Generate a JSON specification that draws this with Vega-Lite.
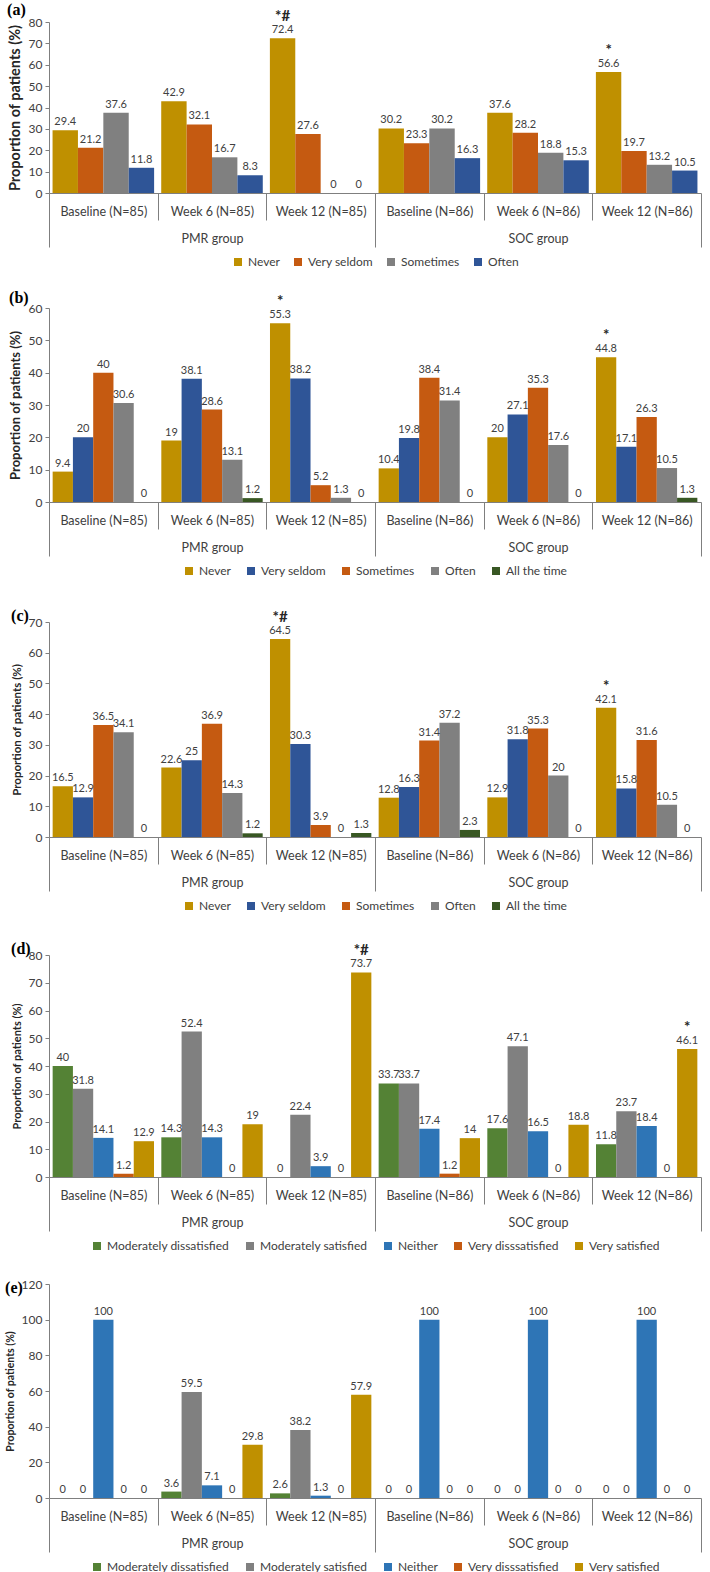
{
  "$schema": "https://vega.github.io/schema/vega-lite/v6.json",
  "padding": {"left": 5, "top": 2, "right": 2, "bottom": 2},
  "config": {
    "font": "Lato",
    "view": {"stroke": null},
    "title": {"font": "Liberation Serif", "fontSize": 16, "fontWeight": "bold", "color": "#000000", "anchor": "start", "frame": "bounds"},
    "axis": {"labelFontSize": 12, "labelColor": "#404040", "domainColor": "#7f7f7f", "tickColor": "#7f7f7f", "grid": false},
    "axisX": {"labelFontSize": 12.5},
    "axisY": {"tickSize": 4, "labelPadding": 3, "titleFontWeight": "bold", "titleColor": "#262626", "titlePadding": 6},
    "legend": {"orient": "bottom", "direction": "horizontal", "title": null, "symbolType": "square", "symbolSize": 64, "symbolStrokeWidth": 0, "labelFontSize": 12, "labelColor": "#404040", "columnPadding": 14, "offset": 8, "padding": 0, "layout": {"bottom": {"anchor": "middle"}}},
    "text": {"fontSize": 11, "color": "#404040"}
  },
  "datasets": {
    "a": [
      {"time": "Baseline (N=85)", "cat": "Never", "value": 29.4},
      {"time": "Baseline (N=85)", "cat": "Very seldom", "value": 21.2},
      {"time": "Baseline (N=85)", "cat": "Sometimes", "value": 37.6},
      {"time": "Baseline (N=85)", "cat": "Often", "value": 11.8},
      {"time": "Week 6 (N=85)", "cat": "Never", "value": 42.9},
      {"time": "Week 6 (N=85)", "cat": "Very seldom", "value": 32.1},
      {"time": "Week 6 (N=85)", "cat": "Sometimes", "value": 16.7},
      {"time": "Week 6 (N=85)", "cat": "Often", "value": 8.3},
      {"time": "Week 12 (N=85)", "cat": "Never", "value": 72.4, "sig": "*#"},
      {"time": "Week 12 (N=85)", "cat": "Very seldom", "value": 27.6},
      {"time": "Week 12 (N=85)", "cat": "Sometimes", "value": 0},
      {"time": "Week 12 (N=85)", "cat": "Often", "value": 0},
      {"time": "Baseline (N=86)", "cat": "Never", "value": 30.2},
      {"time": "Baseline (N=86)", "cat": "Very seldom", "value": 23.3},
      {"time": "Baseline (N=86)", "cat": "Sometimes", "value": 30.2},
      {"time": "Baseline (N=86)", "cat": "Often", "value": 16.3},
      {"time": "Week 6 (N=86)", "cat": "Never", "value": 37.6},
      {"time": "Week 6 (N=86)", "cat": "Very seldom", "value": 28.2},
      {"time": "Week 6 (N=86)", "cat": "Sometimes", "value": 18.8},
      {"time": "Week 6 (N=86)", "cat": "Often", "value": 15.3},
      {"time": "Week 12 (N=86)", "cat": "Never", "value": 56.6, "sig": "*"},
      {"time": "Week 12 (N=86)", "cat": "Very seldom", "value": 19.7},
      {"time": "Week 12 (N=86)", "cat": "Sometimes", "value": 13.2},
      {"time": "Week 12 (N=86)", "cat": "Often", "value": 10.5}
    ],
    "b": [
      {"time": "Baseline (N=85)", "cat": "Never", "value": 9.4},
      {"time": "Baseline (N=85)", "cat": "Very seldom", "value": 20},
      {"time": "Baseline (N=85)", "cat": "Sometimes", "value": 40},
      {"time": "Baseline (N=85)", "cat": "Often", "value": 30.6},
      {"time": "Baseline (N=85)", "cat": "All the time", "value": 0},
      {"time": "Week 6 (N=85)", "cat": "Never", "value": 19},
      {"time": "Week 6 (N=85)", "cat": "Very seldom", "value": 38.1},
      {"time": "Week 6 (N=85)", "cat": "Sometimes", "value": 28.6},
      {"time": "Week 6 (N=85)", "cat": "Often", "value": 13.1},
      {"time": "Week 6 (N=85)", "cat": "All the time", "value": 1.2},
      {"time": "Week 12 (N=85)", "cat": "Never", "value": 55.3, "sig": "*"},
      {"time": "Week 12 (N=85)", "cat": "Very seldom", "value": 38.2},
      {"time": "Week 12 (N=85)", "cat": "Sometimes", "value": 5.2},
      {"time": "Week 12 (N=85)", "cat": "Often", "value": 1.3},
      {"time": "Week 12 (N=85)", "cat": "All the time", "value": 0},
      {"time": "Baseline (N=86)", "cat": "Never", "value": 10.4},
      {"time": "Baseline (N=86)", "cat": "Very seldom", "value": 19.8},
      {"time": "Baseline (N=86)", "cat": "Sometimes", "value": 38.4},
      {"time": "Baseline (N=86)", "cat": "Often", "value": 31.4},
      {"time": "Baseline (N=86)", "cat": "All the time", "value": 0},
      {"time": "Week 6 (N=86)", "cat": "Never", "value": 20},
      {"time": "Week 6 (N=86)", "cat": "Very seldom", "value": 27.1},
      {"time": "Week 6 (N=86)", "cat": "Sometimes", "value": 35.3},
      {"time": "Week 6 (N=86)", "cat": "Often", "value": 17.6},
      {"time": "Week 6 (N=86)", "cat": "All the time", "value": 0},
      {"time": "Week 12 (N=86)", "cat": "Never", "value": 44.8, "sig": "*"},
      {"time": "Week 12 (N=86)", "cat": "Very seldom", "value": 17.1},
      {"time": "Week 12 (N=86)", "cat": "Sometimes", "value": 26.3},
      {"time": "Week 12 (N=86)", "cat": "Often", "value": 10.5},
      {"time": "Week 12 (N=86)", "cat": "All the time", "value": 1.3}
    ],
    "c": [
      {"time": "Baseline (N=85)", "cat": "Never", "value": 16.5},
      {"time": "Baseline (N=85)", "cat": "Very seldom", "value": 12.9},
      {"time": "Baseline (N=85)", "cat": "Sometimes", "value": 36.5},
      {"time": "Baseline (N=85)", "cat": "Often", "value": 34.1},
      {"time": "Baseline (N=85)", "cat": "All the time", "value": 0},
      {"time": "Week 6 (N=85)", "cat": "Never", "value": 22.6},
      {"time": "Week 6 (N=85)", "cat": "Very seldom", "value": 25},
      {"time": "Week 6 (N=85)", "cat": "Sometimes", "value": 36.9},
      {"time": "Week 6 (N=85)", "cat": "Often", "value": 14.3},
      {"time": "Week 6 (N=85)", "cat": "All the time", "value": 1.2},
      {"time": "Week 12 (N=85)", "cat": "Never", "value": 64.5, "sig": "*#"},
      {"time": "Week 12 (N=85)", "cat": "Very seldom", "value": 30.3},
      {"time": "Week 12 (N=85)", "cat": "Sometimes", "value": 3.9},
      {"time": "Week 12 (N=85)", "cat": "Often", "value": 0},
      {"time": "Week 12 (N=85)", "cat": "All the time", "value": 1.3},
      {"time": "Baseline (N=86)", "cat": "Never", "value": 12.8},
      {"time": "Baseline (N=86)", "cat": "Very seldom", "value": 16.3},
      {"time": "Baseline (N=86)", "cat": "Sometimes", "value": 31.4},
      {"time": "Baseline (N=86)", "cat": "Often", "value": 37.2},
      {"time": "Baseline (N=86)", "cat": "All the time", "value": 2.3},
      {"time": "Week 6 (N=86)", "cat": "Never", "value": 12.9},
      {"time": "Week 6 (N=86)", "cat": "Very seldom", "value": 31.8},
      {"time": "Week 6 (N=86)", "cat": "Sometimes", "value": 35.3},
      {"time": "Week 6 (N=86)", "cat": "Often", "value": 20},
      {"time": "Week 6 (N=86)", "cat": "All the time", "value": 0},
      {"time": "Week 12 (N=86)", "cat": "Never", "value": 42.1, "sig": "*"},
      {"time": "Week 12 (N=86)", "cat": "Very seldom", "value": 15.8},
      {"time": "Week 12 (N=86)", "cat": "Sometimes", "value": 31.6},
      {"time": "Week 12 (N=86)", "cat": "Often", "value": 10.5},
      {"time": "Week 12 (N=86)", "cat": "All the time", "value": 0}
    ],
    "d": [
      {"time": "Baseline (N=85)", "cat": "Moderately dissatisfied", "value": 40},
      {"time": "Baseline (N=85)", "cat": "Moderately satisfied", "value": 31.8},
      {"time": "Baseline (N=85)", "cat": "Neither", "value": 14.1},
      {"time": "Baseline (N=85)", "cat": "Very disssatisfied", "value": 1.2},
      {"time": "Baseline (N=85)", "cat": "Very satisfied", "value": 12.9},
      {"time": "Week 6 (N=85)", "cat": "Moderately dissatisfied", "value": 14.3},
      {"time": "Week 6 (N=85)", "cat": "Moderately satisfied", "value": 52.4},
      {"time": "Week 6 (N=85)", "cat": "Neither", "value": 14.3},
      {"time": "Week 6 (N=85)", "cat": "Very disssatisfied", "value": 0},
      {"time": "Week 6 (N=85)", "cat": "Very satisfied", "value": 19},
      {"time": "Week 12 (N=85)", "cat": "Moderately dissatisfied", "value": 0},
      {"time": "Week 12 (N=85)", "cat": "Moderately satisfied", "value": 22.4},
      {"time": "Week 12 (N=85)", "cat": "Neither", "value": 3.9},
      {"time": "Week 12 (N=85)", "cat": "Very disssatisfied", "value": 0},
      {"time": "Week 12 (N=85)", "cat": "Very satisfied", "value": 73.7, "sig": "*#"},
      {"time": "Baseline (N=86)", "cat": "Moderately dissatisfied", "value": 33.7},
      {"time": "Baseline (N=86)", "cat": "Moderately satisfied", "value": 33.7},
      {"time": "Baseline (N=86)", "cat": "Neither", "value": 17.4},
      {"time": "Baseline (N=86)", "cat": "Very disssatisfied", "value": 1.2},
      {"time": "Baseline (N=86)", "cat": "Very satisfied", "value": 14},
      {"time": "Week 6 (N=86)", "cat": "Moderately dissatisfied", "value": 17.6},
      {"time": "Week 6 (N=86)", "cat": "Moderately satisfied", "value": 47.1},
      {"time": "Week 6 (N=86)", "cat": "Neither", "value": 16.5},
      {"time": "Week 6 (N=86)", "cat": "Very disssatisfied", "value": 0},
      {"time": "Week 6 (N=86)", "cat": "Very satisfied", "value": 18.8},
      {"time": "Week 12 (N=86)", "cat": "Moderately dissatisfied", "value": 11.8},
      {"time": "Week 12 (N=86)", "cat": "Moderately satisfied", "value": 23.7},
      {"time": "Week 12 (N=86)", "cat": "Neither", "value": 18.4},
      {"time": "Week 12 (N=86)", "cat": "Very disssatisfied", "value": 0},
      {"time": "Week 12 (N=86)", "cat": "Very satisfied", "value": 46.1, "sig": "*"}
    ],
    "e": [
      {"time": "Baseline (N=85)", "cat": "Moderately dissatisfied", "value": 0},
      {"time": "Baseline (N=85)", "cat": "Moderately satisfied", "value": 0},
      {"time": "Baseline (N=85)", "cat": "Neither", "value": 100},
      {"time": "Baseline (N=85)", "cat": "Very disssatisfied", "value": 0},
      {"time": "Baseline (N=85)", "cat": "Very satisfied", "value": 0},
      {"time": "Week 6 (N=85)", "cat": "Moderately dissatisfied", "value": 3.6},
      {"time": "Week 6 (N=85)", "cat": "Moderately satisfied", "value": 59.5},
      {"time": "Week 6 (N=85)", "cat": "Neither", "value": 7.1},
      {"time": "Week 6 (N=85)", "cat": "Very disssatisfied", "value": 0},
      {"time": "Week 6 (N=85)", "cat": "Very satisfied", "value": 29.8},
      {"time": "Week 12 (N=85)", "cat": "Moderately dissatisfied", "value": 2.6},
      {"time": "Week 12 (N=85)", "cat": "Moderately satisfied", "value": 38.2},
      {"time": "Week 12 (N=85)", "cat": "Neither", "value": 1.3},
      {"time": "Week 12 (N=85)", "cat": "Very disssatisfied", "value": 0},
      {"time": "Week 12 (N=85)", "cat": "Very satisfied", "value": 57.9},
      {"time": "Baseline (N=86)", "cat": "Moderately dissatisfied", "value": 0},
      {"time": "Baseline (N=86)", "cat": "Moderately satisfied", "value": 0},
      {"time": "Baseline (N=86)", "cat": "Neither", "value": 100},
      {"time": "Baseline (N=86)", "cat": "Very disssatisfied", "value": 0},
      {"time": "Baseline (N=86)", "cat": "Very satisfied", "value": 0},
      {"time": "Week 6 (N=86)", "cat": "Moderately dissatisfied", "value": 0},
      {"time": "Week 6 (N=86)", "cat": "Moderately satisfied", "value": 0},
      {"time": "Week 6 (N=86)", "cat": "Neither", "value": 100},
      {"time": "Week 6 (N=86)", "cat": "Very disssatisfied", "value": 0},
      {"time": "Week 6 (N=86)", "cat": "Very satisfied", "value": 0},
      {"time": "Week 12 (N=86)", "cat": "Moderately dissatisfied", "value": 0},
      {"time": "Week 12 (N=86)", "cat": "Moderately satisfied", "value": 0},
      {"time": "Week 12 (N=86)", "cat": "Neither", "value": 100},
      {"time": "Week 12 (N=86)", "cat": "Very disssatisfied", "value": 0},
      {"time": "Week 12 (N=86)", "cat": "Very satisfied", "value": 0}
    ]
  },
  "spacing": 22,
  "resolve": {"scale": {"color": "independent", "y": "independent", "x": "independent", "xOffset": "independent"}, "legend": {"color": "independent"}},
  "vconcat": [
    {
      "title": {"text": "(a)", "offset": -9},
      "width": 652,
      "height": 171,
      "data": {"name": "a"},
      "encoding": {
        "x": {"field": "time", "type": "nominal", "scale": {"domain": ["Baseline (N=85)", "Week 6 (N=85)", "Week 12 (N=85)", "Baseline (N=86)", "Week 6 (N=86)", "Week 12 (N=86)"], "paddingInner": 0, "paddingOuter": 0},
          "axis": {"title": null, "labelAngle": 0, "labelOverlap": false, "tickBand": "extent", "labelLineHeight": 27,
            "tickSize": {"condition": {"test": "!datum.value || datum.value == 'Week 12 (N=85)' || datum.value == 'Week 12 (N=86)'", "value": 54}, "value": 27},
            "labelPadding": {"condition": {"test": "!datum.value || datum.value == 'Week 12 (N=85)' || datum.value == 'Week 12 (N=86)'", "value": -42}, "value": -15},
            "labelExpr": "datum.value == 'Week 6 (N=85)' ? [datum.label, 'PMR group'] : datum.value == 'Week 6 (N=86)' ? [datum.label, 'SOC group'] : datum.label"}},
        "xOffset": {"field": "cat", "type": "nominal", "scale": {"domain": ["Never", "Very seldom", "Sometimes", "Often"], "paddingInner": 0, "paddingOuter": 0.14}},
        "y": {"field": "value", "type": "quantitative", "scale": {"domain": [0, 80], "nice": false},
          "axis": {"title": "Proportion of patients (%)", "titleFontSize": 14.5, "values": [0, 10, 20, 30, 40, 50, 60, 70, 80]}}
      },
      "layer": [
        {"mark": "bar",
          "encoding": {"color": {"field": "cat", "type": "nominal",
            "scale": {"domain": ["Never", "Very seldom", "Sometimes", "Often"], "range": ["#BF9000", "#C55A11", "#808080", "#2F5597"]},
            "legend": {"columnPadding": 12}}}},
        {"mark": {"type": "text", "dy": -8}, "encoding": {"text": {"field": "value", "type": "quantitative"}}},
        {"transform": [{"filter": "datum.sig"}], "mark": {"type": "text", "dy": -22, "fontSize": 15, "fontWeight": "bold", "color": "#262626"}, "encoding": {"text": {"field": "sig"}}}
      ]
    },
    {
      "title": {"text": "(b)", "offset": -12},
      "width": 652,
      "height": 194,
      "data": {"name": "b"},
      "encoding": {
        "x": {"field": "time", "type": "nominal", "scale": {"domain": ["Baseline (N=85)", "Week 6 (N=85)", "Week 12 (N=85)", "Baseline (N=86)", "Week 6 (N=86)", "Week 12 (N=86)"], "paddingInner": 0, "paddingOuter": 0},
          "axis": {"title": null, "labelAngle": 0, "labelOverlap": false, "tickBand": "extent", "labelLineHeight": 27,
            "tickSize": {"condition": {"test": "!datum.value || datum.value == 'Week 12 (N=85)' || datum.value == 'Week 12 (N=86)'", "value": 54}, "value": 27},
            "labelPadding": {"condition": {"test": "!datum.value || datum.value == 'Week 12 (N=85)' || datum.value == 'Week 12 (N=86)'", "value": -42}, "value": -15},
            "labelExpr": "datum.value == 'Week 6 (N=85)' ? [datum.label, 'PMR group'] : datum.value == 'Week 6 (N=86)' ? [datum.label, 'SOC group'] : datum.label"}},
        "xOffset": {"field": "cat", "type": "nominal", "scale": {"domain": ["Never", "Very seldom", "Sometimes", "Often", "All the time"], "paddingInner": 0, "paddingOuter": 0.18}},
        "y": {"field": "value", "type": "quantitative", "scale": {"domain": [0, 60], "nice": false},
          "axis": {"title": "Proportion of patients (%)", "titleFontSize": 13, "values": [0, 10, 20, 30, 40, 50, 60]}}
      },
      "layer": [
        {"mark": "bar",
          "encoding": {"color": {"field": "cat", "type": "nominal",
            "scale": {"domain": ["Never", "Very seldom", "Sometimes", "Often", "All the time"], "range": ["#BF9000", "#2F5597", "#C55A11", "#808080", "#385723"]},
            "legend": {"offset": 0, "padding": 8}}}},
        {"mark": {"type": "text", "dy": -8}, "encoding": {"text": {"field": "value", "type": "quantitative"}}},
        {"transform": [{"filter": "datum.sig"}], "mark": {"type": "text", "dy": -22, "fontSize": 15, "fontWeight": "bold", "color": "#262626"}, "encoding": {"text": {"field": "sig"}}}
      ]
    },
    {
      "title": {"text": "(c)", "offset": -14},
      "width": 652,
      "height": 215,
      "data": {"name": "c"},
      "encoding": {
        "x": {"field": "time", "type": "nominal", "scale": {"domain": ["Baseline (N=85)", "Week 6 (N=85)", "Week 12 (N=85)", "Baseline (N=86)", "Week 6 (N=86)", "Week 12 (N=86)"], "paddingInner": 0, "paddingOuter": 0},
          "axis": {"title": null, "labelAngle": 0, "labelOverlap": false, "tickBand": "extent", "labelLineHeight": 27,
            "tickSize": {"condition": {"test": "!datum.value || datum.value == 'Week 12 (N=85)' || datum.value == 'Week 12 (N=86)'", "value": 54}, "value": 27},
            "labelPadding": {"condition": {"test": "!datum.value || datum.value == 'Week 12 (N=85)' || datum.value == 'Week 12 (N=86)'", "value": -42}, "value": -15},
            "labelExpr": "datum.value == 'Week 6 (N=85)' ? [datum.label, 'PMR group'] : datum.value == 'Week 6 (N=86)' ? [datum.label, 'SOC group'] : datum.label"}},
        "xOffset": {"field": "cat", "type": "nominal", "scale": {"domain": ["Never", "Very seldom", "Sometimes", "Often", "All the time"], "paddingInner": 0, "paddingOuter": 0.18}},
        "y": {"field": "value", "type": "quantitative", "scale": {"domain": [0, 70], "nice": false},
          "axis": {"title": "Proportion of patients (%)", "titleFontSize": 11.5, "values": [0, 10, 20, 30, 40, 50, 60, 70]}}
      },
      "layer": [
        {"mark": "bar",
          "encoding": {"color": {"field": "cat", "type": "nominal",
            "scale": {"domain": ["Never", "Very seldom", "Sometimes", "Often", "All the time"], "range": ["#BF9000", "#2F5597", "#C55A11", "#808080", "#385723"]},
            "legend": {"offset": 1, "padding": 7}}}},
        {"mark": {"type": "text", "dy": -8}, "encoding": {"text": {"field": "value", "type": "quantitative"}}},
        {"transform": [{"filter": "datum.sig"}], "mark": {"type": "text", "dy": -22, "fontSize": 15, "fontWeight": "bold", "color": "#262626"}, "encoding": {"text": {"field": "sig"}}}
      ]
    },
    {
      "title": {"text": "(d)", "offset": -14},
      "width": 652,
      "height": 222,
      "data": {"name": "d"},
      "encoding": {
        "x": {"field": "time", "type": "nominal", "scale": {"domain": ["Baseline (N=85)", "Week 6 (N=85)", "Week 12 (N=85)", "Baseline (N=86)", "Week 6 (N=86)", "Week 12 (N=86)"], "paddingInner": 0, "paddingOuter": 0},
          "axis": {"title": null, "labelAngle": 0, "labelOverlap": false, "tickBand": "extent", "labelLineHeight": 27,
            "tickSize": {"condition": {"test": "!datum.value || datum.value == 'Week 12 (N=85)' || datum.value == 'Week 12 (N=86)'", "value": 54}, "value": 27},
            "labelPadding": {"condition": {"test": "!datum.value || datum.value == 'Week 12 (N=85)' || datum.value == 'Week 12 (N=86)'", "value": -42}, "value": -15},
            "labelExpr": "datum.value == 'Week 6 (N=85)' ? [datum.label, 'PMR group'] : datum.value == 'Week 6 (N=86)' ? [datum.label, 'SOC group'] : datum.label"}},
        "xOffset": {"field": "cat", "type": "nominal", "scale": {"domain": ["Moderately dissatisfied", "Moderately satisfied", "Neither", "Very disssatisfied", "Very satisfied"], "paddingInner": 0, "paddingOuter": 0.18}},
        "y": {"field": "value", "type": "quantitative", "scale": {"domain": [0, 80], "nice": false},
          "axis": {"title": "Proportion of patients (%)", "titleFontSize": 11, "values": [0, 10, 20, 30, 40, 50, 60, 70, 80]}}
      },
      "layer": [
        {"mark": "bar",
          "encoding": {"color": {"field": "cat", "type": "nominal",
            "scale": {"domain": ["Moderately dissatisfied", "Moderately satisfied", "Neither", "Very disssatisfied", "Very satisfied"], "range": ["#548235", "#808080", "#2E75B6", "#C55A11", "#BF9000"]},
            "legend": {"offset": 4, "padding": 4}}}},
        {"mark": {"type": "text", "dy": -8}, "encoding": {"text": {"field": "value", "type": "quantitative"}}},
        {"transform": [{"filter": "datum.sig"}], "mark": {"type": "text", "dy": -22, "fontSize": 15, "fontWeight": "bold", "color": "#262626"}, "encoding": {"text": {"field": "sig"}}}
      ]
    },
    {
      "title": {"text": "(e)", "offset": -18},
      "width": 652,
      "height": 214,
      "data": {"name": "e"},
      "encoding": {
        "x": {"field": "time", "type": "nominal", "scale": {"domain": ["Baseline (N=85)", "Week 6 (N=85)", "Week 12 (N=85)", "Baseline (N=86)", "Week 6 (N=86)", "Week 12 (N=86)"], "paddingInner": 0, "paddingOuter": 0},
          "axis": {"title": null, "labelAngle": 0, "labelOverlap": false, "tickBand": "extent", "labelLineHeight": 27,
            "tickSize": {"condition": {"test": "!datum.value || datum.value == 'Week 12 (N=85)' || datum.value == 'Week 12 (N=86)'", "value": 54}, "value": 27},
            "labelPadding": {"condition": {"test": "!datum.value || datum.value == 'Week 12 (N=85)' || datum.value == 'Week 12 (N=86)'", "value": -42}, "value": -15},
            "labelExpr": "datum.value == 'Week 6 (N=85)' ? [datum.label, 'PMR group'] : datum.value == 'Week 6 (N=86)' ? [datum.label, 'SOC group'] : datum.label"}},
        "xOffset": {"field": "cat", "type": "nominal", "scale": {"domain": ["Moderately dissatisfied", "Moderately satisfied", "Neither", "Very disssatisfied", "Very satisfied"], "paddingInner": 0, "paddingOuter": 0.18}},
        "y": {"field": "value", "type": "quantitative", "scale": {"domain": [0, 120], "nice": false},
          "axis": {"title": "Proportion of patients (%)", "titleFontSize": 10.5, "values": [0, 20, 40, 60, 80, 100, 120]}}
      },
      "layer": [
        {"mark": "bar",
          "encoding": {"color": {"field": "cat", "type": "nominal",
            "scale": {"domain": ["Moderately dissatisfied", "Moderately satisfied", "Neither", "Very disssatisfied", "Very satisfied"], "range": ["#548235", "#808080", "#2E75B6", "#C55A11", "#BF9000"]}}}},
        {"mark": {"type": "text", "dy": -8}, "encoding": {"text": {"field": "value", "type": "quantitative"}}}
      ]
    }
  ]
}
